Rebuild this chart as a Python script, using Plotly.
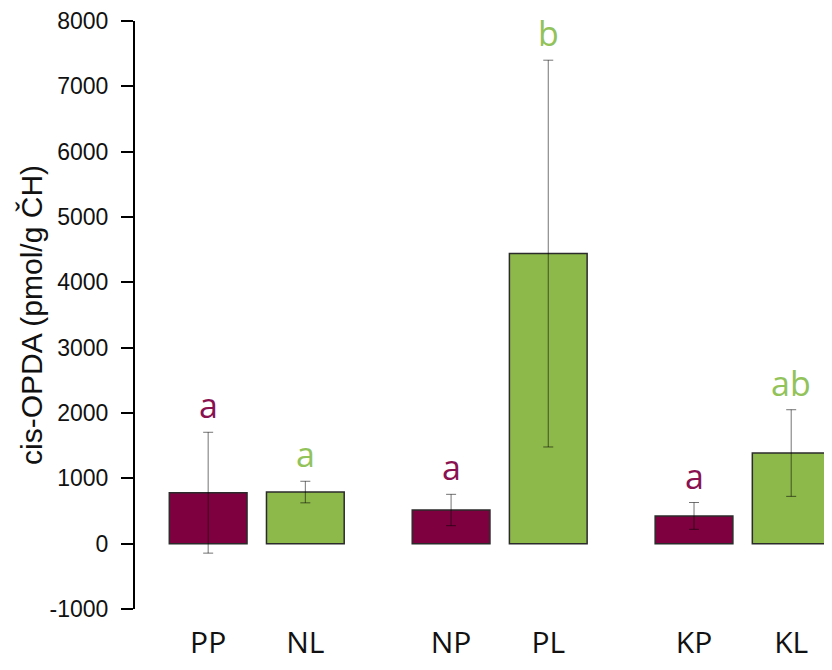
import plotly.graph_objects as go

categories = ["PP", "NL", "NP", "PL", "KP", "KL"]
x_pos = [0, 1, 2.5, 3.5, 5, 6]
values = [780, 790, 515, 4440, 425, 1387]
errors = [925, 165, 240, 2960, 205, 663]
letters = ["a", "a", "a", "b", "a", "ab"]
groups = ["P", "L", "P", "L", "P", "L"]
y_ticks = list(range(-1000, 8001, 1000))
y_ticktext = [str(v) for v in y_ticks]

bar_colors = {"P": "#7F003F", "L": "#8DB84A"}
text_colors = {"P": "#8A1150", "L": "#92C35A"}

fig = go.Figure()
fig.add_trace(go.Bar(
    x=x_pos, y=values, width=0.8,
    marker=dict(color=[bar_colors[g] for g in groups],
                line=dict(color="#2b2b2b", width=1.5)),
    error_y=dict(type="data", array=errors, visible=True,
                 color="rgba(0,0,0,0.55)", thickness=1, width=5),
    showlegend=False,
))

for xv, v, e, lt, g in zip(x_pos, values, errors, letters, groups):
    fig.add_annotation(x=xv, y=v + e, text=lt, showarrow=False,
                       yanchor="middle", yshift=27,
                       font=dict(family="Open Sans", size=34, color=text_colors[g]))

fig.add_annotation(x=0.0, xref="paper", y=0.5, yref="paper",
                   xshift=-104, text="cis-OPDA (pmol/g ČH)", textangle=-90,
                   showarrow=False, xanchor="center", yanchor="middle",
                   font=dict(family="Liberation Sans", size=30, color="#111"))

fig.update_layout(
    width=824, height=662,
    margin=dict(l=127, r=0, t=13, b=61),
    plot_bgcolor="white", paper_bgcolor="white",
)
fig.update_xaxes(range=[-0.753, 6.42], tickmode="array", tickvals=x_pos,
                 ticktext=categories, showline=False, showgrid=False,
                 zeroline=False, ticks="",
                 tickfont=dict(family="Open Sans", size=30, color="#111"),
                 ticklabelstandoff=13)
fig.update_yaxes(range=[-1000, 8000], tickmode="array",
                 tickvals=y_ticks, ticktext=y_ticktext,
                 showline=True, linecolor="black", linewidth=2,
                 ticks="outside", ticklen=12, tickwidth=2, tickcolor="black",
                 showgrid=False, zeroline=False,
                 tickfont=dict(family="Liberation Sans", size=23, color="#111"),
                 ticklabelstandoff=8)

fig.write_html("out.html")
